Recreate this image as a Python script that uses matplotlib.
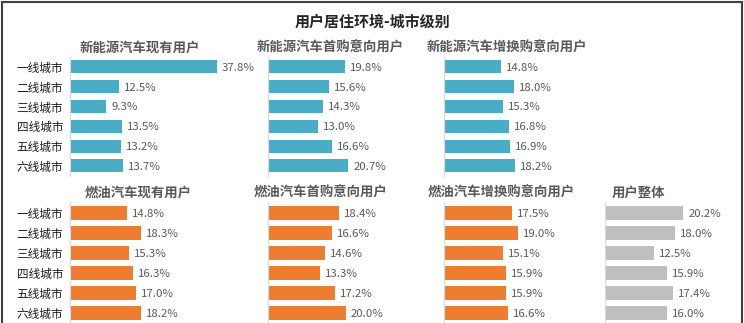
import numpy as np
import matplotlib.pyplot as plt
from matplotlib.patches import Rectangle

plt.rcParams['font.family'] = ['Noto Sans CJK SC', 'DejaVu Sans']

# 数据
cities = ['一线城市', '二线城市', '三线城市', '四线城市', '五线城市', '六线城市']

nev_own = [37.8, 12.5, 9.3, 13.5, 13.2, 13.7]
nev_first = [19.8, 15.6, 14.3, 13.0, 16.6, 20.7]
nev_replace = [14.8, 18.0, 15.3, 16.8, 16.9, 18.2]
fuel_own = [14.8, 18.3, 15.3, 16.3, 17.0, 18.2]
fuel_first = [18.4, 16.6, 14.6, 13.3, 17.2, 20.0]
fuel_replace = [17.5, 19.0, 15.1, 15.9, 15.9, 16.6]
overall = [20.2, 18.0, 12.5, 15.9, 17.4, 16.0]

BLUE = '#4BACC6'
ORANGE = '#ED7D31'
GRAY = '#BFBFBF'

W, H = 744, 323
fig = plt.figure(figsize=(W / 100, H / 100), dpi=100)

PX_PER_PCT = 3.88
AX_W = 150


def panel(left, top, rowgap, values, color, title, title_x, title_y, show_labels):
    ax_h = rowgap * 6
    ax = fig.add_axes([left / W, (H - top - ax_h) / H, AX_W / W, ax_h / H])
    y = np.arange(len(values))
    ax.barh(y, values, height=0.66, color=color)
    ax.set_xlim(0, AX_W / PX_PER_PCT)
    ax.set_ylim(5.5, -0.5)
    for yi, v in zip(y, values):
        ax.text(v + 5 / PX_PER_PCT, yi + 0.05, f'{v:.1f}%', va='center', ha='left',
                fontsize=8.2, color='#595959', clip_on=False)
    for s in ['top', 'right', 'bottom']:
        ax.spines[s].set_visible(False)
    ax.spines['left'].set_color('#D9D9D9')
    ax.spines['left'].set_linewidth(0.8)
    ax.set_xticks([])
    ax.tick_params(axis='y', length=0, pad=5)
    if show_labels:
        ax.set_yticks(y)
        ax.set_yticklabels(cities, fontsize=8.4, color='#1a1a1a')
    else:
        ax.set_yticks([])
    fig.text(title_x / W, 1 - title_y / H, title, ha='center', va='center',
             fontsize=9.6, fontweight='bold', color='#595959')
    return ax


# 新能源汽车
panel(70, 57, 19.8, nev_own, BLUE, '新能源汽车现有用户', 140, 48, True)
panel(268, 57, 19.8, nev_first, BLUE, '新能源汽车首购意向用户', 330, 48, False)
panel(444, 57, 19.8, nev_replace, BLUE, '新能源汽车增换购意向用户', 507, 48, False)

# 燃油汽车 + 整体
panel(70, 203, 20, fuel_own, ORANGE, '燃油汽车现有用户', 138, 193, True)
panel(268, 203, 20, fuel_first, ORANGE, '燃油汽车首购意向用户', 321, 193, False)
panel(444, 203, 20, fuel_replace, ORANGE, '燃油汽车增换购意向用户', 501, 193, False)
panel(605, 203, 20, overall, GRAY, '用户整体', 638, 193, False)

fig.text(372 / W, 1 - 22 / H, '用户居住环境-城市级别', ha='center', va='center',
         fontsize=10.8, fontweight='bold', color='#262626')

# 外框
fig.patches.append(Rectangle((1.5 / W, -0.1), 740.5 / W, 1.1 - 1.5 / H,
                             transform=fig.transFigure, fill=False,
                             edgecolor='#404040', linewidth=1.5))

fig.savefig('out.png', dpi=100)
